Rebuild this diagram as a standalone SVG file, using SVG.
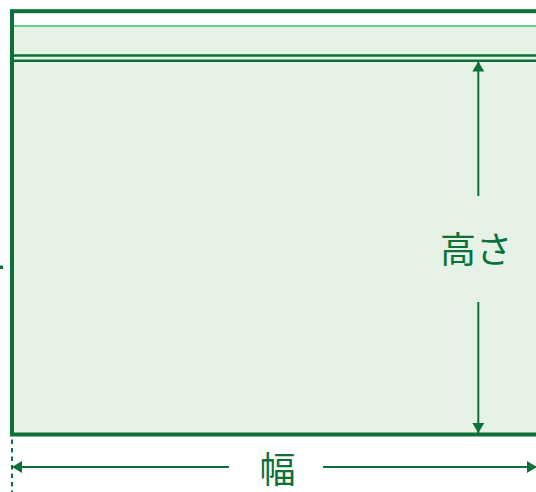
<svg xmlns="http://www.w3.org/2000/svg" width="536" height="492" viewBox="0 0 536 492">
<defs>
<style>
.dim{stroke:#0b7139;stroke-width:2;fill:none}
.lbl{font-family:"Noto Sans CJK JP","Noto Sans",sans-serif;font-size:36px;fill:#0b7139;text-anchor:middle}
</style>
<marker id="ah" viewBox="0 0 10 12" refX="10" refY="6" markerWidth="10" markerHeight="12" markerUnits="userSpaceOnUse" orient="auto-start-reverse">
<path d="M0,0 L10,6 L0,12 Z" fill="#0b7139"/>
</marker>
</defs>
<rect width="536" height="492" fill="#ffffff"/>
<g id="bag">
<rect x="12" y="26" width="540" height="408.5" fill="#e6f2e6"/>
<line x1="12" y1="26" x2="540" y2="26" stroke="#3cc464" stroke-width="1.5"/>
<line x1="12" y1="55.5" x2="540" y2="55.5" stroke="#0b7139" stroke-width="2.5"/>
<line x1="12" y1="60.7" x2="540" y2="60.7" stroke="#0b7139" stroke-width="2.5"/>
<rect x="12" y="11.2" width="540" height="423.3" fill="none" stroke="#0b7139" stroke-width="4"/>
</g>
<g id="connectors">
<line class="dim" x1="12" y1="439.5" x2="12" y2="492" stroke-width="2.5" stroke-dasharray="4.5 4"/>
<line class="dim" x1="229" y1="467" x2="12" y2="467" marker-end="url(#ah)"/>
<line class="dim" x1="323" y1="467" x2="537" y2="467" marker-end="url(#ah)"/>
<line class="dim" x1="478.3" y1="196" x2="478.3" y2="61.5" marker-end="url(#ah)"/>
<line class="dim" x1="478.3" y1="302" x2="478.3" y2="433" marker-end="url(#ah)"/>
<rect x="0" y="265.5" width="3" height="3.5" fill="#0b7139"/>
</g>
<g id="label-width"><text class="lbl" x="277.5" y="482.5">幅</text></g>
<g id="label-height"><text class="lbl" x="476" y="262.5">高さ</text></g>
</svg>
